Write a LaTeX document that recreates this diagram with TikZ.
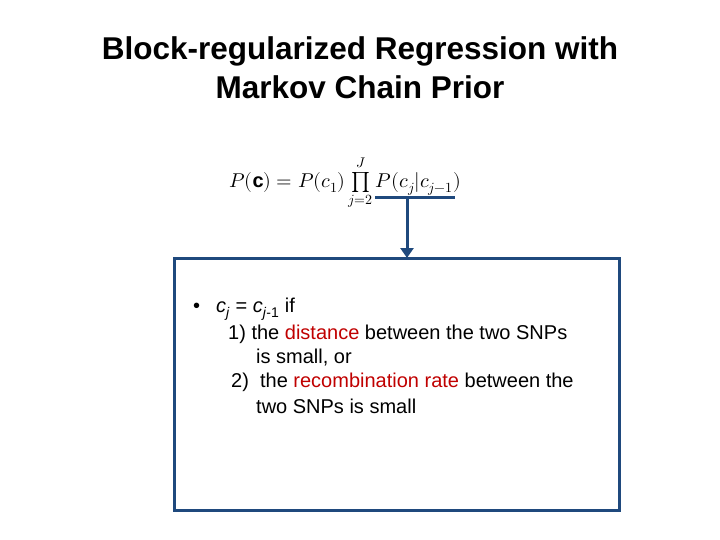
\documentclass[tikz,border=0pt]{standalone}
\usepackage{fontspec}
\setmainfont{Liberation Sans}
\usepackage{unicode-math}
\setmathfont{Latin Modern Math}
\usetikzlibrary{arrows.meta}
\definecolor{bx}{RGB}{31,73,125}
\definecolor{rd}{RGB}{192,0,0}
\begin{document}
\begin{tikzpicture}[x=1pt,y=-1pt,
  title/.style={font=\fontsize{31.5}{39}\selectfont\bfseries,align=center},
  txt/.style={font=\fontsize{20}{24}\selectfont,anchor=west,inner sep=0}]
\useasboundingbox (0,0) rectangle (720,540);
\node[title] (t) at (360,68) {Block-regularized Regression with\\Markov Chain Prior};
\node (f) at (345,183) {\fontsize{20}{24}\selectfont $P(\mathbf{c})=P(c_1)\prod\limits_{j=2}^{J}P(c_j|c_{j-1})$};
\draw[bx,line width=3pt] (174,258) rectangle (619,510);
\coordinate (a) at (375,198); \coordinate (b) at (455,198);
\coordinate (m) at (407,198); \coordinate (e) at (407,258);
\draw[bx,line width=3pt] (a) -- (b);
\draw[bx,line width=3pt,-{Triangle[length=10pt,width=13pt]}] (m) -- (e);
\node[txt] at (193,309) {•\hspace{0.8em}\textit{c}\textsubscript{\textit{j}} = \textit{c}\textsubscript{\textit{j}-1} if};
\node[txt] at (228,334) {1) the \textcolor{rd}{distance} between the two SNPs};
\node[txt] at (256,358) {is small, or};
\node[txt] at (231,382) {2)\ \ the \textcolor{rd}{recombination rate} between the};
\node[txt] at (256,406) {two SNPs is small};
\end{tikzpicture}
\end{document}
